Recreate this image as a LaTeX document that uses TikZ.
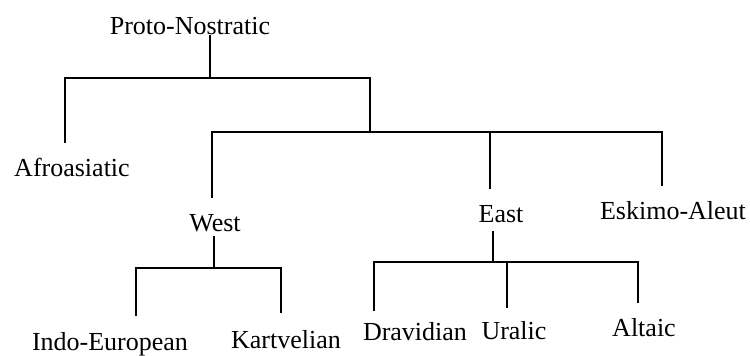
\documentclass[tikz,border=0pt]{standalone}
\usepackage{fontspec}
\setmainfont{Liberation Serif}
\begin{document}
\begin{tikzpicture}[x=0.5pt,y=-0.5pt,
  lbl/.style={inner sep=0pt, font=\fontsize{13}{15}\selectfont},
  tree/.style={line width=1pt, line cap=rect}]
\useasboundingbox (0,0) rectangle (750,356);
% labels
\node[lbl] (pn)   at (190,26)  {Proto-Nostratic};
\node[lbl] (afro) at (72,167)  {Afroasiatic};
\node[lbl] (west) at (215,223) {West};
\node[lbl] (east) at (501,214) {East};
\node[lbl] (esk)  at (673,211) {Eskimo-Aleut};
\node[lbl] (ie)   at (110,344) {Indo-European};
\node[lbl] (kart) at (286,340) {Kartvelian};
\node[lbl] (drav) at (415,332) {Dravidian};
\node[lbl] (ural) at (514,331) {Uralic};
\node[lbl] (alt)  at (644,328) {Altaic};
% connector points
\coordinate (pnE)  at (210,36);
\coordinate (j1)   at (210,78);
\coordinate (afroE) at (65,142);
\coordinate (j2)   at (370,132);
\coordinate (westE) at (212,197);
\coordinate (eastE) at (490,188);
\coordinate (eskE) at (662,185);
\coordinate (westS) at (214,237);
\coordinate (j3)   at (214,268);
\coordinate (ieE)  at (136,315);
\coordinate (kartE) at (281,312);
\coordinate (eastS) at (493,232);
\coordinate (j4)   at (493,262);
\coordinate (dravE) at (374,310);
\coordinate (uralE) at (507,307);
\coordinate (altE) at (638,302);
% Proto-Nostratic
\draw[tree] (pnE) -- (j1);
\draw[tree] (afroE) |- (j1);
\draw[tree] (j1) -| (j2);
% second level
\draw[tree] (westE) |- (j2);
\draw[tree] (j2) -| (eskE);
\draw[tree] (eastE) -- (eastE |- j2);
% West
\draw[tree] (westS) -- (j3);
\draw[tree] (ieE) |- (j3);
\draw[tree] (j3) -| (kartE);
% East
\draw[tree] (eastS) -- (j4);
\draw[tree] (dravE) |- (j4);
\draw[tree] (j4) -| (altE);
\draw[tree] (uralE) -- (uralE |- j4);
\end{tikzpicture}
\end{document}
